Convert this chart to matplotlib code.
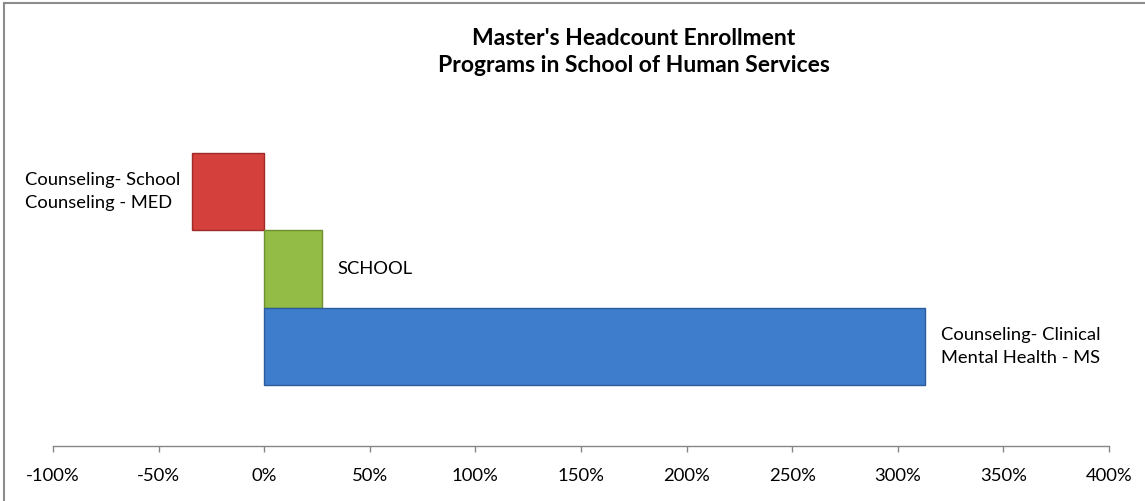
import matplotlib.pyplot as plt
from matplotlib.lines import Line2D
from matplotlib.ticker import MultipleLocator, FuncFormatter

# data
programs = ["Counseling- School\nCounseling - MED", "SCHOOL",
            "Counseling- Clinical\nMental Health - MS"]
change = [-34, 27.5, 313]
bar_colors = ["#D4403B", "#93BC46", "#3E7DCC"]
edge_colors = ["#9E2B28", "#6E8F30", "#2A5C9E"]
title = "Master's Headcount Enrollment\nPrograms in School of Human Services"

plt.rcParams['font.family'] = ['Lato', 'DejaVu Sans']

W, H = 1145, 501
fig = plt.figure(figsize=(W / 100, H / 100), dpi=100)
ax = fig.add_axes([53 / W, 55 / H, 1056 / W, 346 / H])

ypos = list(range(len(programs)))
ax.barh(ypos, change, height=1.0, left=0, color=bar_colors,
        edgecolor=edge_colors, linewidth=1.0, zorder=2)

# labels beside each bar
for y, v, lab in zip(ypos, change, programs):
    if v < 0:
        ax.annotate(lab, (v, y), xytext=(-9, 0), textcoords="offset points",
                    ha="right", va="center", multialignment="left",
                    fontsize=13.2, linespacing=1.55)
    else:
        ax.annotate(lab, (v, y), xytext=(11, 0), textcoords="offset points",
                    ha="left", va="center", multialignment="left",
                    fontsize=13.2, linespacing=1.55)

ax.set_xlim(-100, 400)
ax.set_ylim(3.281, -1.184)
ax.xaxis.set_major_locator(MultipleLocator(50))
ax.xaxis.set_major_formatter(FuncFormatter(lambda v, p: f"{v:.0f}%"))
ax.tick_params(axis="x", direction="out", length=4, width=1, color="#868686",
               labelsize=13.3, pad=11.5)
ax.set_yticks([])
for s in ["top", "right", "left"]:
    ax.spines[s].set_visible(False)
ax.spines["bottom"].set_color("#868686")
ax.spines["bottom"].set_linewidth(1)

fig.text(634 / W, 1 - 52 / H, title, ha="center", va="center",
         fontsize=16.5, fontweight="bold", linespacing=1.4)

# chart border
fig.add_artist(Line2D([4 / W, 4 / W], [0, 1 - 3 / H], color="#8C8C8C", lw=1.5))
fig.add_artist(Line2D([4 / W, 1], [1 - 3 / H, 1 - 3 / H], color="#8C8C8C", lw=1.5))

fig.savefig("out.png", dpi=100)
